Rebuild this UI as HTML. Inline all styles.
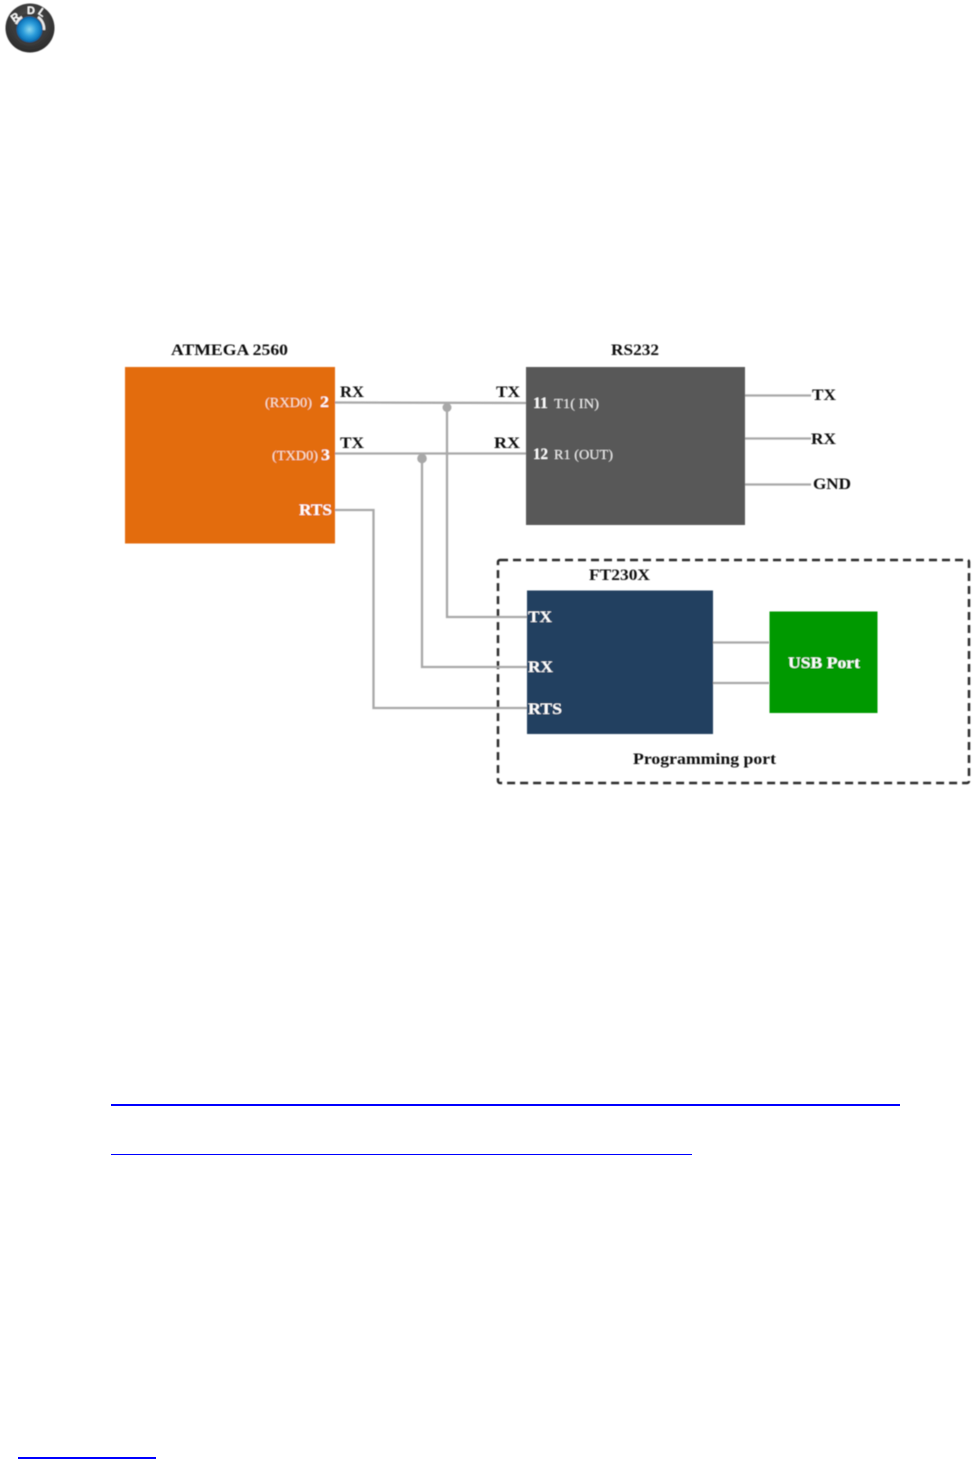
<!DOCTYPE html>
<html>
<head>
<meta charset="utf-8">
<title>Diagram</title>
<style>
html,body{margin:0;padding:0;background:#fff;width:977px;height:1459px;overflow:hidden}
svg{display:block}
text{font-family:"Liberation Serif",serif;font-size:16px;font-weight:bold;fill:#111}
.w{fill:#fff}
.n{font-weight:normal;font-size:14px;fill:#f8e6d6}
.g{font-weight:normal;font-size:14px;fill:#ececec}
.l{font-family:"Liberation Sans",sans-serif;font-size:11px;font-weight:bold;fill:#fff}
</style>
</head>
<body>
<svg width="977" height="1459" viewBox="0 0 977 1459" xmlns="http://www.w3.org/2000/svg">
<defs>
<radialGradient id="b" cx="50%" cy="50%" r="50%">
<stop offset="0" stop-color="#8fd8ee"/>
<stop offset=".5" stop-color="#2f9fdc"/>
<stop offset=".85" stop-color="#1178bd"/>
<stop offset="1" stop-color="#0a5a96"/>
</radialGradient>
<radialGradient id="d" cx="50%" cy="40%" r="60%">
<stop offset="0" stop-color="#555"/>
<stop offset="1" stop-color="#2b2b2b"/>
</radialGradient>
<filter id="s" x="-5%" y="-5%" width="110%" height="110%"><feGaussianBlur stdDeviation="0.45"/></filter>
<filter id="t" x="-20%" y="-20%" width="140%" height="140%"><feGaussianBlur stdDeviation="0.5"/></filter>
</defs>

<!-- logo -->
<g filter="url(#t)">
<circle cx="30" cy="28" r="24.500" fill="url(#d)"/>
<circle cx="29.500" cy="29.500" r="15" fill="none" stroke="#3a3a3a" stroke-width="2.500"/>
<path d="M16 24 A15 15 0 0 1 22 17" fill="none" stroke="#eee" stroke-width="2.500"/>
<path d="M38 17 A15 15 0 0 1 44 30" fill="none" stroke="#eee" stroke-width="2.500"/>
<circle cx="29.500" cy="29.500" r="13" fill="url(#b)"/>
<text x="11" y="21" class="l" transform="rotate(-35 15 17)">R</text>
<text x="27" y="14" class="l">D</text>
<text x="39" y="16" class="l" transform="rotate(35 42 12)">L</text>
</g>

<g filter="url(#s)">
<!-- dashed container -->
<rect x="498" y="560" width="471" height="223" rx="2" fill="none" stroke="#2a2a2a" stroke-width="2.500" stroke-dasharray="8 5"/>

<!-- connectors -->
<g fill="none" stroke="#a8a8a8" stroke-width="2.300">
<path d="M335 402.500 L526 403"/>
<path d="M335 453.500 H526"/>
<path d="M335 510 H373.500 V708 H527"/>
<path d="M447 407 V617 H527"/>
<path d="M422 458 V667 H527"/>
<path d="M745 395.500 H811"/>
<path d="M745 438.500 H811"/>
<path d="M745 484.500 H811"/>
<path d="M713 642.500 H769"/>
<path d="M713 683 H769"/>
</g>
<circle cx="447" cy="407.500" r="4.500" fill="#a8a8a8"/>
<circle cx="422" cy="458.500" r="4.800" fill="#a8a8a8"/>

<!-- blocks -->
<rect x="125" y="367" width="210" height="176.500" fill="#e36c09"/>
<rect x="526" y="367" width="219" height="158" fill="#595959"/>
<rect x="527" y="590.500" width="186" height="143.500" fill="#243f60"/>
<rect x="769.500" y="611.500" width="108" height="101.500" fill="#009900"/>

<!-- titles -->
<text x="171" y="355" textLength="117" lengthAdjust="spacingAndGlyphs">ATMEGA 2560</text>
<text x="611" y="355" textLength="48" lengthAdjust="spacingAndGlyphs">RS232</text>
<text x="589" y="580" textLength="61" lengthAdjust="spacingAndGlyphs">FT230X</text>
<text x="633" y="764" textLength="143" lengthAdjust="spacingAndGlyphs">Programming port</text>

<!-- ATMEGA pins -->
<text x="265" y="407" class="n" textLength="47" lengthAdjust="spacingAndGlyphs">(RXD0)</text>
<text x="320" y="407" class="w" textLength="9" lengthAdjust="spacingAndGlyphs">2</text>
<text x="272" y="460" class="n" textLength="46" lengthAdjust="spacingAndGlyphs">(TXD0)</text>
<text x="321" y="460" class="w" textLength="9" lengthAdjust="spacingAndGlyphs">3</text>
<text x="299" y="515" class="w" textLength="33" lengthAdjust="spacingAndGlyphs">RTS</text>

<!-- wire labels -->
<text x="340" y="397" textLength="24" lengthAdjust="spacingAndGlyphs">RX</text>
<text x="340" y="448" textLength="24" lengthAdjust="spacingAndGlyphs">TX</text>
<text x="496" y="397" textLength="24" lengthAdjust="spacingAndGlyphs">TX</text>
<text x="494" y="448" textLength="26" lengthAdjust="spacingAndGlyphs">RX</text>

<!-- RS232 pins -->
<text x="533" y="408" class="w" textLength="15" lengthAdjust="spacingAndGlyphs">11</text>
<text x="554" y="408" class="g" textLength="45" lengthAdjust="spacingAndGlyphs">T1( IN)</text>
<text x="533" y="459" class="w" textLength="15" lengthAdjust="spacingAndGlyphs">12</text>
<text x="554" y="459" class="g" textLength="59" lengthAdjust="spacingAndGlyphs">R1 (OUT)</text>

<!-- RS232 outputs -->
<text x="812" y="400" textLength="24" lengthAdjust="spacingAndGlyphs">TX</text>
<text x="811" y="444" textLength="25" lengthAdjust="spacingAndGlyphs">RX</text>
<text x="813" y="489" textLength="38" lengthAdjust="spacingAndGlyphs">GND</text>

<!-- FT230X pins -->
<text x="528" y="622" class="w" textLength="24" lengthAdjust="spacingAndGlyphs">TX</text>
<text x="528" y="672" class="w" textLength="25" lengthAdjust="spacingAndGlyphs">RX</text>
<text x="528" y="714" class="w" textLength="34" lengthAdjust="spacingAndGlyphs">RTS</text>

<text x="788" y="668" class="w" textLength="72" lengthAdjust="spacingAndGlyphs">USB Port</text>
</g>

<!-- link underlines -->
<rect x="111" y="1104" width="789" height="2" fill="#0000ff"/>
<rect x="111" y="1154" width="581" height="1" fill="#0000ff"/>
<rect x="18" y="1457" width="138" height="2" fill="#0000ff"/>
</svg>
</body>
</html>
